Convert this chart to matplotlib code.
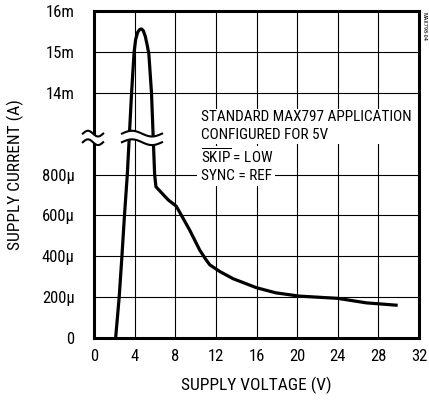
import numpy as np
import matplotlib
matplotlib.use("Agg")
import matplotlib.pyplot as plt

# supply voltage (V) and supply current (A)
volts = [2.13, 2.48, 2.75, 3.0, 3.28, 3.7, 3.95, 4.1, 4.3, 4.5, 4.68, 4.85,
         5.05, 5.25, 5.4, 5.66, 5.97, 6.1, 7.3, 8.1, 9.4, 10.4, 11.0, 11.4,
         12.4, 13.7, 16.0, 17.9, 20.2, 24.0, 26.8, 29.9]
amps = [0.0, 200e-6, 400e-6, 600e-6, 800e-6, 14e-3, 15e-3, 15.3e-3, 15.48e-3,
        15.55e-3, 15.56e-3, 15.52e-3, 15.38e-3, 15.15e-3, 14.95e-3, 14e-3,
        800e-6, 740e-6, 676e-6, 645e-6, 530e-6, 431e-6, 385e-6, 358e-6,
        325e-6, 290e-6, 246e-6, 221e-6, 205e-6, 194e-6, 172e-6, 160e-6]

x_ticks = [0, 4, 8, 12, 16, 20, 24, 28, 32]
y_tick_amps = [0, 200e-6, 400e-6, 600e-6, 800e-6, 14e-3, 15e-3, 16e-3]
y_tick_labels = ["0", "200\u03bc", "400\u03bc", "600\u03bc", "800\u03bc", "14m", "15m", "16m"]

note_lines = ["STANDARD MAX797 APPLICATION", "CONFIGURED FOR 5V",
              r"$\overline{\mathrm{SKIP}}$ = LOW", "SYNC = REF"]

plt.rcParams["font.family"] = ["Roboto Condensed", "DejaVu Sans"]
plt.rcParams["mathtext.fontset"] = "custom"
plt.rcParams["mathtext.rm"] = "Roboto Condensed"


def to_axis(a):
    # broken axis: 0..800u on units 0..4, 14m..16m on units 6..8
    a = np.asarray(a, dtype=float)
    return np.where(a <= 1e-3, a / 200e-6, 6 + (a - 14e-3) / 1e-3)


fig = plt.figure(figsize=(4.29, 4.0), dpi=100)
ax = fig.add_axes([94 / 429, 62 / 400, 325 / 429, 327 / 400])
ax.set_xlim(0, 32)
ax.set_ylim(0, 8)

yt = to_axis(y_tick_amps)
for x in x_ticks[1:-1]:
    ax.axvline(x, color="black", lw=0.8, zorder=1)
for y in yt[1:-1]:
    ax.axhline(y, color="black", lw=0.8, zorder=1)

ax.plot(volts, to_axis(amps), color="black", lw=2.3, zorder=3,
        solid_capstyle="butt", solid_joinstyle="round")


# break marks
def wave(x0, x1, yc):
    xs = np.linspace(x0, x1, 60)
    return xs, yc + 0.07 * np.sin((xs - x0) / (x1 - x0) * 2 * np.pi)


for x0, x1 in [(-1.1, 0.9), (2.75, 6.7)]:
    xs, top = wave(x0, x1, 5.0)
    _, bot = wave(x0, x1, 4.79)
    ax.fill_between(xs, bot, top, color="white", zorder=4, clip_on=False, lw=0)
    ax.plot(xs, top, color="black", lw=1.5, zorder=5, clip_on=False)
    ax.plot(xs, bot, color="black", lw=1.5, zorder=5, clip_on=False)

tx = 10.5
ax.text(tx, 5.18, note_lines[0] + "\n" + note_lines[1], fontsize=11, va="center",
        ha="left", linespacing=1.4, zorder=6,
        bbox=dict(facecolor="white", edgecolor="none", pad=1))
ax.text(tx, 4.42, note_lines[2], fontsize=11, va="center", ha="left", zorder=6,
        bbox=dict(facecolor="white", edgecolor="none", pad=1))
ax.text(tx, 3.97, note_lines[3], fontsize=11, va="center", ha="left", zorder=6,
        bbox=dict(facecolor="white", edgecolor="none", pad=2.5))

ax.set_xticks(x_ticks)
ax.set_yticks(yt)
ax.set_yticklabels(y_tick_labels)
ax.tick_params(length=0, labelsize=12, pad=8)
ax.tick_params(axis="y", pad=14)
for s in ax.spines.values():
    s.set_linewidth(2.2)
    s.set_zorder(2)

ax.set_xlabel("SUPPLY VOLTAGE (V)", fontsize=12.5, labelpad=9)
ax.set_ylabel("SUPPLY CURRENT (A)", fontsize=12.5, labelpad=13)
fig.text(424 / 429, 0.97, "MAX798-04", rotation=-90, fontsize=4.5, va="top", ha="center")

fig.savefig("out.png", dpi=100)
